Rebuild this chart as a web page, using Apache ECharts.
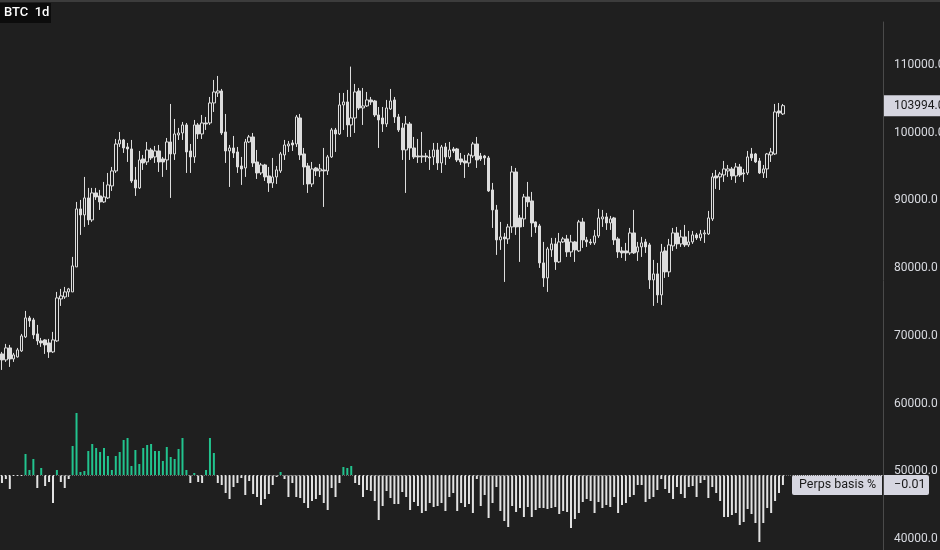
<!DOCTYPE html>
<html><head><meta charset="utf-8">
<style>html,body{margin:0;padding:0;background:#1f1f1f;overflow:hidden;}#c{width:940px;height:550px;}</style>
<script src="https://cdn.jsdelivr.net/npm/echarts@6/dist/echarts.min.js"></script>
</head><body><div id="c"></div>
<script>
const opens=[67334,66448,68220,66596,66891,67777,69844,72650,72354,70287,
69253,69401,68958,67629,69253,75456,75751,76490,76490,80182,
88745,87858,90369,87120,91107,90664,89778,90369,92140,94354,
98340,98931,97897,97602,93026,91845,96126,95683,97455,96421,
97307,96126,95978,98636,96864,99669,99964,101146,97307,96421,
101146,99817,101441,101441,104395,105872,106167,100112,97307,97750,
97159,95093,94797,98636,99374,95683,94059,95240,93616,92583,
93469,94354,96716,98045,98488,98340,102179,96864,95093,92435,
94797,94354,94502,94354,96421,100408,99817,104100,104543,101146,
102179,106167,103656,103952,104838,104690,102622,102179,101293,103509,
104838,102327,100703,97455,101293,97750,96569,96569,96569,96421,
96421,97455,95535,97897,96421,97602,97602,96126,95831,95535,
96569,98340,96569,96569,96274,91550,88597,84168,84611,84316,
86087,94207,87416,87268,90516,89926,86825,86235,80772,78557,
82692,83578,80920,83873,84316,82397,83873,82544,86825,84168,
83873,83725,84758,87268,87563,86677,87416,84316,82544,82544,
82249,85201,82397,83135,83873,83430,78262,79148,76047,82544,
79443,83282,85201,83578,84611,83430,83873,84906,84463,85054,
85054,87268,93616,93469,93764,94354,94650,93616,94945,94059,
94059,96864,96864,95831,94059,94650,96716,96864,103213,102770];
const closes=[66448,68220,66596,67186,67924,69991,72650,72207,70139,69253,
68958,68663,67629,69401,75604,75899,76490,76933,80329,88745,
87858,90369,87120,91107,90516,89778,90516,92288,94354,98340,
98931,97750,97602,92878,91845,95978,95535,97455,96274,97307,
95683,95683,98636,96864,99817,99964,101146,97159,96421,101146,
99817,101441,101293,104395,106020,106167,99964,97307,97750,97012,
94945,94650,98636,99374,95535,94059,95240,93469,92583,93469,
94502,96864,98193,98340,98193,102327,96716,94945,92435,94650,
94354,94650,94354,96421,100408,99817,104100,104543,101146,102179,
106020,103656,103952,104838,104543,102622,101884,101293,103656,104690,
102327,100408,97455,101293,97750,96421,96421,96421,96421,96274,
97455,95535,97897,96421,97455,97307,95978,95683,95535,96716,
98340,95978,96126,96274,91402,88597,84168,84611,84316,86087,
94207,86087,86087,90516,89778,86677,86087,80772,78557,82839,
83578,80920,83873,84316,82397,83873,82692,86825,84168,83873,
83725,84758,87416,87563,86677,87268,84168,82397,82249,82249,
85201,82249,83135,83725,83135,78262,79148,76047,82397,79443,
83430,85201,83578,84611,83430,83873,84906,84463,85054,85201,
87416,93469,93321,93912,94650,94650,93616,94945,93764,93912,
96421,96274,95683,94059,94650,96864,97159,103066,102918,103994];
const lows=[64971,66153,65414,66153,66800,67629,69696,71321,69548,68663,
68370,67334,66743,67481,69106,74422,75456,75751,76490,80182,
84906,86087,86382,86825,90073,88597,89630,90221,91402,94059,
97897,97012,95683,92583,90664,91697,94502,95240,95978,95535,
94207,93469,94502,90369,95978,98931,98931,94059,94059,95535,
99078,99078,100408,101146,103066,105281,99669,95535,91992,96274,
94059,92288,93469,98488,94945,93173,93764,92878,91254,91845,
92435,94059,95978,97159,97307,97897,95978,92288,91107,91992,
93616,93469,89040,93764,96274,97159,99669,100408,99374,99374,
99964,103361,101146,103804,104100,102327,97750,100112,100850,103361,
101441,100112,95978,91107,95978,96126,95535,95535,95683,94502,
95240,94502,94059,95240,96126,97012,95683,95240,93321,94945,
96274,94797,95831,95240,91254,85939,81954,82692,77966,83578,
85201,84906,80920,86087,89040,84611,85201,80035,77228,76490,
81658,79739,80772,83725,81658,81658,80920,82397,82987,83135,
83430,83430,84463,86087,85644,85644,83430,81511,81511,81068,
81954,82100,81068,81658,82249,76933,74422,74865,74570,78557,
78700,82544,82839,83135,83135,83135,83578,84168,84020,83725,
84906,86973,91697,91550,92731,93469,93026,92583,93469,92731,
93764,95831,95535,93912,93321,93321,95683,96716,102327,102622];
const highs=[67629,68810,68663,67481,68220,70287,73684,72945,72650,71616,
69696,69500,69548,70582,76490,76933,77228,77080,81658,89778,
90073,93469,91845,91845,91845,91550,92731,94059,94945,99078,
100112,99078,98488,98931,94945,97307,96716,98636,97750,98045,
98193,96421,99226,104247,102032,100703,101589,101441,98340,101884,
101441,102622,102327,105281,107792,108383,106463,102770,98193,99521,
97897,96421,99078,99669,99964,97455,95535,95400,94945,96274,
95093,97159,98931,98783,98931,102622,102770,97750,95535,95683,
94945,95388,97750,96716,100703,100703,105872,105872,106315,109760,
107201,106610,106610,106020,105281,104838,103804,103804,104838,106463,
105281,102770,101441,102475,101589,99374,99078,100112,97012,97455,
98488,98488,98193,98488,98636,97897,97750,97012,96716,97012,
98636,99374,97012,96716,96569,92583,89335,86825,85201,86530,
95093,94797,87858,90959,92731,91254,86900,86530,83873,83135,
84463,84463,85201,84611,84906,84906,84020,87120,87416,84611,
84316,85644,88745,88597,88154,87711,87563,84611,83135,83725,
85939,88597,83873,84611,84316,83725,81215,80772,83578,83135,
84316,85939,86087,85644,86382,85496,85496,85201,85644,85644,
88449,94059,94502,94207,95831,95240,94945,95535,95388,94650,
97307,97750,97012,96274,95240,97012,97750,104247,104395,104247];
const basis=[-0.008,-0.004,-0.014,-0.001,-0.001,-0.001,0.021,0.005,0.016,-0.013,
0.007,-0.011,-0.007,-0.028,0.005,-0.007,-0.013,-0.004,0.029,0.062,
0.003,0.004,0.024,0.031,0.027,0.023,0.027,0.019,0.005,0.019,
0.023,0.035,0.037,0.009,0.025,0.011,0.027,0.030,0.031,0.024,
0.024,0.014,0.028,0.018,0.016,0.026,0.037,0.005,-0.008,0.002,
-0.007,-0.008,0.005,0.037,0.022,-0.008,-0.010,-0.018,-0.024,-0.012,
-0.008,-0.003,-0.020,-0.006,-0.019,-0.022,-0.030,-0.024,-0.019,-0.010,
-0.002,0.003,-0.004,-0.022,-0.008,-0.022,-0.023,-0.028,-0.033,-0.026,
-0.024,-0.020,-0.028,-0.035,-0.013,-0.022,-0.008,0.008,0.007,0.009,
-0.008,-0.010,-0.022,-0.015,-0.016,-0.026,-0.045,-0.031,-0.016,-0.023,
-0.029,-0.029,-0.017,-0.022,-0.035,-0.027,-0.031,-0.038,-0.036,-0.028,
-0.032,-0.031,-0.028,-0.036,-0.022,-0.018,-0.036,-0.028,-0.032,-0.029,
-0.038,-0.004,-0.031,-0.020,-0.043,-0.028,-0.012,-0.036,-0.046,-0.052,
-0.031,-0.037,-0.033,-0.042,-0.032,-0.042,-0.035,-0.033,-0.033,-0.034,
-0.033,-0.032,-0.039,-0.036,-0.037,-0.053,-0.044,-0.038,-0.027,-0.024,
-0.026,-0.038,-0.027,-0.033,-0.030,-0.032,-0.022,-0.038,-0.030,-0.028,
-0.022,-0.020,-0.010,-0.010,-0.027,-0.024,-0.022,-0.015,-0.004,-0.014,
-0.018,-0.024,-0.012,-0.019,-0.023,-0.012,-0.011,-0.022,-0.008,-0.005,
-0.023,-0.012,-0.018,-0.026,-0.042,-0.042,-0.040,-0.038,-0.050,-0.047,
-0.034,-0.039,-0.048,-0.067,-0.048,-0.033,-0.038,-0.026,-0.018,-0.010];
const categories = opens.map((_, i) => String(i + 1));
const padCount = 25;
const yTickLabels = ['40000.0','50000.0','60000.0','70000.0','80000.0','90000.0','100000.0','110000.0'];
const titleText = 'BTC  1d';
const basisName = 'Perps basis %';

const FONT = "Roboto,'DejaVu Sans',sans-serif";
const BG = '#1f1f1f', CANDLE = '#dddddd', GREEN = '#22c38e', TAG = '#d6d6e0';
const xCats = categories.concat(Array(padCount).fill(''));
const ohlc = opens.map((o, i) => [o, closes[i], lows[i], highs[i]]);

const chart = echarts.init(document.getElementById('c'), null, {renderer: 'canvas'});
const option = {
  backgroundColor: BG,
  animation: false,
  grid: [
    {left: 0, right: 57, top: 22, bottom: 11, containLabel: false, outerBoundsMode: 'none'},
    {left: 0, right: 57, top: 400, bottom: 0, containLabel: false, outerBoundsMode: 'none'}
  ],
  xAxis: [
    {type: 'category', gridIndex: 0, data: xCats, boundaryGap: true, show: false},
    {type: 'category', gridIndex: 1, data: xCats, boundaryGap: true, show: false}
  ],
  yAxis: [
    {type: 'value', gridIndex: 0, position: 'right', min: 40000, max: 116350, interval: 10000,
     axisLine: {show: true, lineStyle: {color: '#4a4a4a', width: 1}},
     axisTick: {show: false}, splitLine: {show: false},
     axisLabel: {show: true, showMaxLabel: false, margin: 11, color: '#d8dae0', fontSize: 12, fontFamily: FONT,
       formatter: v => { const s = v.toFixed(1); return yTickLabels.includes(s) ? s : ''; }}},
    {type: 'value', gridIndex: 1, position: 'right', min: -0.075, max: 0.075,
     axisLine: {show: true, lineStyle: {color: '#4a4a4a', width: 1}},
     axisTick: {show: false}, splitLine: {show: false}, axisLabel: {show: false}}
  ],
  series: [
    {type: 'candlestick', xAxisIndex: 0, yAxisIndex: 0, data: ohlc, barWidth: 3,
     itemStyle: {color: BG, color0: CANDLE, borderColor: CANDLE, borderColor0: CANDLE, borderWidth: 1}},
    {type: 'bar', name: basisName, xAxisIndex: 1, yAxisIndex: 1, barWidth: 2,
     data: basis.map(v => ({value: v, itemStyle: {color: v >= 0 ? GREEN : '#e2e2e2'}})),
     markLine: {silent: true, symbol: 'none', label: {show: false},
       lineStyle: {type: 'dotted', color: '#6a6a6a', width: 1}, data: [{yAxis: 0.002}]}}
  ]
};
chart.setOption(option);

const lastClose = closes[closes.length - 1];
const lastBasis = basis[basis.length - 1];
const yP = chart.convertToPixel({yAxisIndex: 0}, lastClose);
const yB = chart.convertToPixel({yAxisIndex: 1}, lastBasis);
const axisX = 883;
chart.setOption({
  graphic: [
    {type: 'rect', left: 0, top: 0, shape: {width: 940, height: 2}, style: {fill: '#3c3c3c'}},
    {type: 'rect', left: 0, top: 3, shape: {width: 51, height: 20}, style: {fill: '#0c0c0c'}},
    {type: 'text', left: 4, top: 6, style: {text: titleText, fill: '#ffffff', font: "500 13px " + FONT}},
    {type: 'rect', x: axisX, y: yP - 10.5, shape: {width: 60, height: 21}, style: {fill: TAG}},
    {type: 'text', x: 894, y: yP, style: {text: lastClose.toFixed(1), fill: '#1b1b1b', font: "12px " + FONT, verticalAlign: 'middle'}},
    {type: 'rect', x: 792, y: yB - 10, shape: {width: 90, height: 20, r: [2, 0, 0, 2]}, style: {fill: TAG}},
    {type: 'text', x: 799, y: yB, style: {text: basisName, fill: '#1b1b1b', font: "12.5px " + FONT, verticalAlign: 'middle'}},
    {type: 'rect', x: axisX + 1, y: yB - 10, shape: {width: 45, height: 20, r: [0, 2, 2, 0]}, style: {fill: TAG}},
    {type: 'text', x: 894, y: yB, style: {text: lastBasis.toFixed(2).replace('-', '\u2212'), fill: '#1b1b1b', font: "12.5px " + FONT, verticalAlign: 'middle'}}
  ]
});
</script></body></html>
